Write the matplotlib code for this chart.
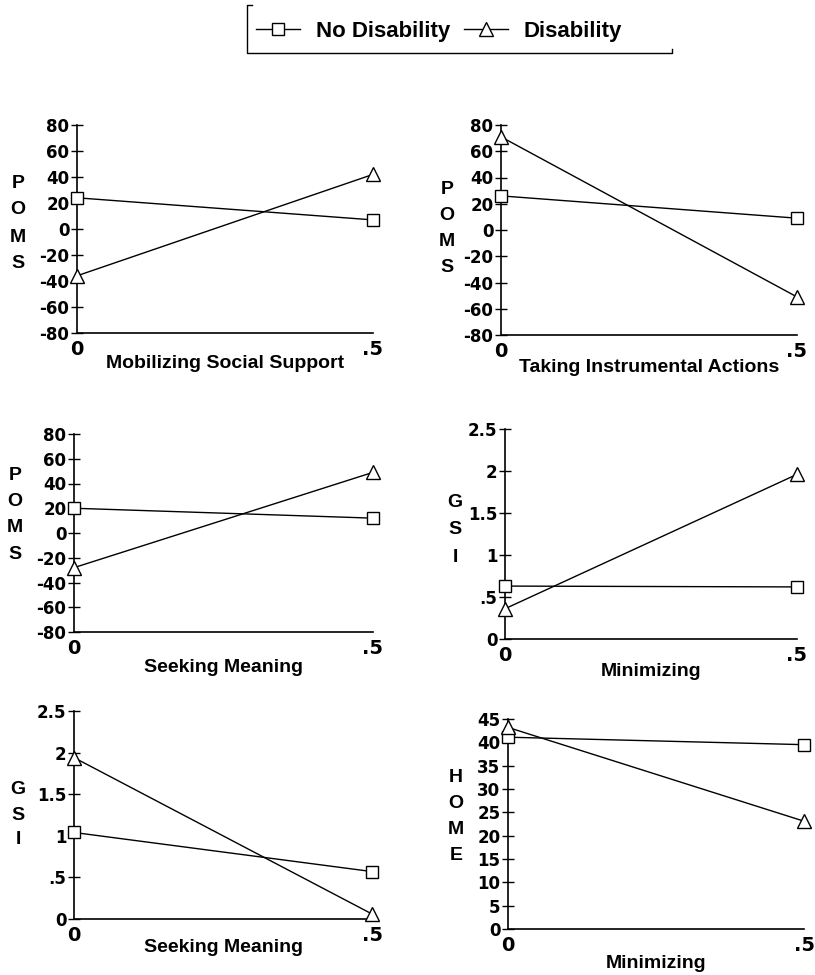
import matplotlib
matplotlib.use('Agg')
import matplotlib.pyplot as plt
from matplotlib.lines import Line2D

# ---------------- data ----------------
x_levels = [0, 0.5]
x_tick_labels = ['0', '.5']
series_names = ['No Disability', 'Disability']

panel_xlabels = ['Mobilizing Social Support', 'Taking Instrumental Actions',
                 'Seeking Meaning', 'Minimizing', 'Seeking Meaning', 'Minimizing']
panel_ylabels = ['POMS', 'POMS', 'POMS', 'GSI', 'GSI', 'HOME']

no_disability_1 = [24, 7]
disability_1 = [-36, 42]
no_disability_2 = [26, 9]
disability_2 = [71, -51]
no_disability_3 = [20, 12]
disability_3 = [-28, 49]
no_disability_4 = [0.63, 0.62]
disability_4 = [0.36, 1.96]
no_disability_5 = [1.04, 0.57]
disability_5 = [1.94, 0.06]
no_disability_6 = [41.1, 39.5]
disability_6 = [43.2, 23.1]

poms_ticks = [-80, -60, -40, -20, 0, 20, 40, 60, 80]
poms_tick_labels = ['-80', '-60', '-40', '-20', '0', '20', '40', '60', '80']
gsi_ticks = [0, 0.5, 1, 1.5, 2, 2.5]
gsi_tick_labels = ['0', '.5', '1', '1.5', '2', '2.5']
home_ticks = [0, 5, 10, 15, 20, 25, 30, 35, 40, 45]
home_tick_labels = ['0', '5', '10', '15', '20', '25', '30', '35', '40', '45']

no_dis_all = [no_disability_1, no_disability_2, no_disability_3,
              no_disability_4, no_disability_5, no_disability_6]
dis_all = [disability_1, disability_2, disability_3,
           disability_4, disability_5, disability_6]
yticks_all = [(poms_ticks, poms_tick_labels)] * 3 + [(gsi_ticks, gsi_tick_labels)] * 2 + \
             [(home_ticks, home_tick_labels)]

# ---------------- layout (pixels) ----------------
W, H = 815, 975
boxes = [(77, 373, 125, 333), (501, 797, 125, 335),
         (74, 373, 434, 632), (505, 797, 429, 639),
         (74, 372, 711, 919), (508, 804, 719, 929)]
ylab_pos = [(18, 183, 27), (447, 190, 26), (15, 475, 26.5),
            (455, 503, 27), (18, 790, 25), (456, 777, 26)]
xlab_off = [30, 33, 36, 32, 28, 34]

LBL_FONT = 'Liberation Sans'
TICK_FONT = 'DejaVu Sans'

fig = plt.figure(figsize=(W / 100, H / 100), dpi=100)
fig.patch.set_facecolor('white')


def fx(px):
    return px / W


def fy(py):
    return 1 - py / H


for i in range(6):
    x0, x1, yt, yb = boxes[i]
    ax = fig.add_axes([fx(x0), fy(yb), (x1 - x0) / W, (yb - yt) / H])
    ax.plot(x_levels, no_dis_all[i], color='black', lw=1.0, marker='s', ms=9,
            mfc='white', mec='black', mew=1.0, clip_on=False, zorder=5)
    ax.plot(x_levels, dis_all[i], color='black', lw=1.0, marker='^', ms=10,
            mfc='white', mec='black', mew=1.0, clip_on=False, zorder=5)
    ticks, labels = yticks_all[i]
    ax.set_xlim(0, 0.5)
    ax.set_ylim(ticks[0], ticks[-1])
    ax.set_yticks(ticks)
    ax.set_yticklabels(labels, fontfamily=TICK_FONT, fontweight='bold', fontsize=12)
    ax.set_xticks(x_levels)
    ax.set_xticklabels(x_tick_labels, fontfamily=TICK_FONT, fontweight='bold', fontsize=14)
    ax.tick_params(axis='y', direction='inout', length=8, width=1.0, pad=1.5)
    ax.tick_params(axis='x', length=0, pad=5)
    for s in ['top', 'right']:
        ax.spines[s].set_visible(False)
    for s in ['left', 'bottom']:
        ax.spines[s].set_linewidth(1.2)
    ax.patch.set_alpha(0)
    ax.set_xlabel(panel_xlabels[i], fontfamily=LBL_FONT, fontweight='bold', fontsize=14)
    ax.xaxis.set_label_coords(0.5, -xlab_off[i] / (yb - yt))
    ax.xaxis.label.set_va('center')
    # stacked vertical y label
    lx, ly, sp = ylab_pos[i]
    for k, ch in enumerate(panel_ylabels[i]):
        fig.text(fx(lx), fy(ly + k * sp), ch, fontfamily=LBL_FONT, fontweight='bold',
                 fontsize=14, ha='center', va='center')

# ---------------- legend ----------------
handles = [Line2D([], [], color='black', lw=1.0, marker='s', ms=9, mfc='white', mec='black'),
           Line2D([], [], color='black', lw=1.0, marker='^', ms=10, mfc='white', mec='black')]
fig.legend(handles, series_names, loc='center', bbox_to_anchor=(fx(439), fy(31)),
           ncol=2, frameon=False, handlelength=2.0, handletextpad=0.7, columnspacing=0.6,
           prop={'family': LBL_FONT, 'weight': 'bold', 'size': 16})

bracket = [([252, 247, 247, 672, 672], [5, 5, 53, 53, 49])]
for xs, ys in bracket:
    fig.add_artist(Line2D([fx(v) for v in xs], [fy(v) for v in ys], color='black', lw=1.0,
                          transform=fig.transFigure))

fig.savefig('out.png', dpi=100, facecolor='white')
